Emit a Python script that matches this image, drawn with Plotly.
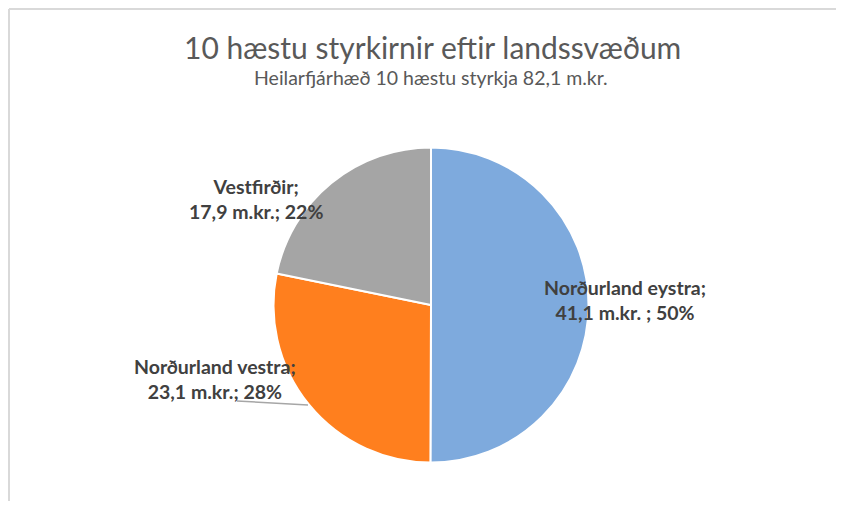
import plotly.graph_objects as go

# Figure size (page has an 8px body margin around the plot div)
OFF = 8
W, H = 844 - 2 * OFF, 509 - 2 * OFF

# Data
regions = ["Norðurland eystra", "Norðurland vestra", "Vestfirðir"]
values = [41.1, 23.1, 17.9]
separators = [" ; ", "; ", "; "]
colors = ["#7EAADD", "#FF7F1E", "#A5A5A5"]

title_text = "10 hæstu styrkirnir eftir landssvæðum"
subtitle_text = "Heilarfjárhæð 10 hæstu styrkja 82,1 m.kr."

# Geometry in page pixels
cx, cy, r = 431, 305, 157.5

def px(x):
    return (x - OFF) / W

def py(y):
    return 1 - (y - OFF) / H

total = sum(values)

fig = go.Figure(go.Pie(
    labels=regions,
    values=values,
    sort=False,
    direction="clockwise",
    rotation=0,
    textinfo="none",
    hoverinfo="label+value+percent",
    marker=dict(colors=colors, line=dict(color="white", width=2)),
    domain=dict(x=[px(cx - r), px(cx + r)], y=[py(cy + r), py(cy - r)]),
    showlegend=False,
))

FONT = "Lato, Carlito, sans-serif"

# Data label positions (page pixel centers of label blocks)
label_pos = [(625, 300), (215, 379), (256, 199)]
annotations = []
for name, v, sep, (lx, ly) in zip(regions, values, separators, label_pos):
    vtxt = f"{v:.1f}".replace(".", ",")
    pct = round(v / total * 100)
    annotations.append(dict(
        x=px(lx), y=py(ly), xref="paper", yref="paper",
        text=f"<b>{name};<br>{vtxt} m.kr.{sep}{pct}%</b>",
        showarrow=False, xanchor="center", yanchor="middle",
        font=dict(family=FONT, size=19.5, color="#404040"),
        align="center",
    ))

annotations.append(dict(
    x=px(433), y=py(47), xref="paper", yref="paper", text=title_text,
    showarrow=False, xanchor="center", yanchor="middle",
    font=dict(family=FONT, size=30, color="#595959"),
))
annotations.append(dict(
    x=px(431), y=py(77), xref="paper", yref="paper", text=subtitle_text,
    showarrow=False, xanchor="center", yanchor="middle",
    font=dict(family=FONT, size=19.5, color="#595959"),
))

shapes = [
    # chart frame: left and top edges
    dict(type="line", xref="paper", yref="paper",
         x0=px(9), x1=px(9), y0=0, y1=py(9),
         line=dict(color="#D9D9D9", width=2)),
    dict(type="line", xref="paper", yref="paper",
         x0=px(9), x1=1, y0=py(9), y1=py(9),
         line=dict(color="#D9D9D9", width=2)),
    # leader line for Norðurland vestra
    dict(type="line", xref="paper", yref="paper",
         x0=px(237), y0=py(401), x1=px(308), y1=py(405),
         line=dict(color="#A6A6A6", width=1.5)),
]

fig.update_layout(
    width=W, height=H,
    margin=dict(l=0, r=0, t=0, b=0),
    paper_bgcolor="white", plot_bgcolor="white",
    annotations=annotations,
    shapes=shapes,
)

fig.write_html("out.html")
